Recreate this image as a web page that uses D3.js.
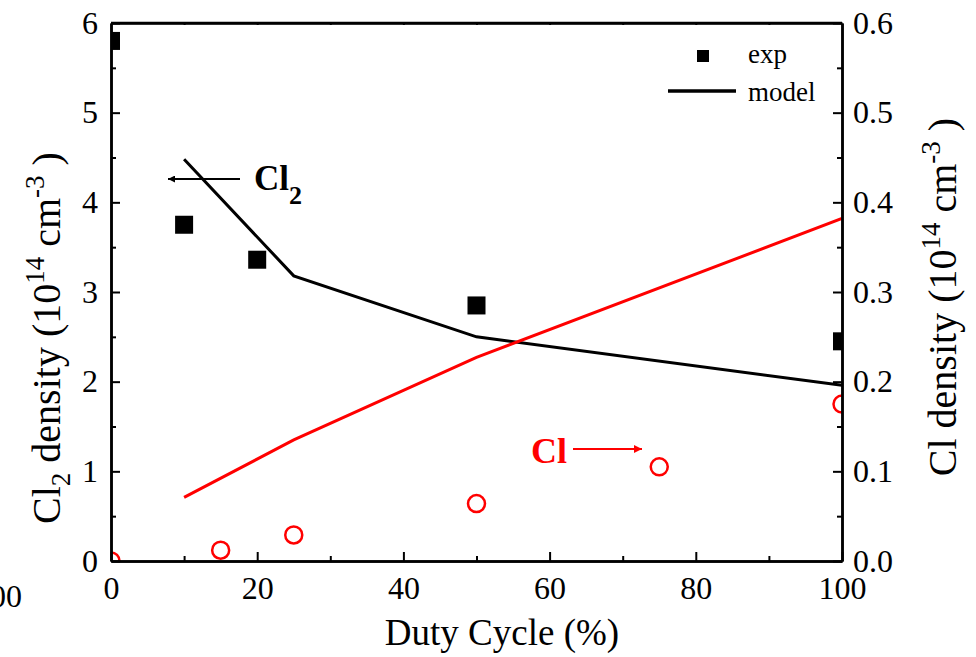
<!DOCTYPE html>
<html><head><meta charset="utf-8">
<script src="https://cdn.jsdelivr.net/npm/d3@7"></script>
<style>body{margin:0;background:#fff;} svg{display:block;} svg text{font-family:"Liberation Serif","Times New Roman",serif !important;}</style>
</head><body>
<script>
// Data
const expX = [0, 10, 20, 50, 100];
const expCl2 = [5.8, 3.75, 3.36, 2.85, 2.45];
const modelX = [10, 25, 50, 100];
const modelCl2 = [4.48, 3.18, 2.5, 1.96];
const clExpX = [0, 15, 25, 50, 75, 100];
const clExp = [0.0, 0.012, 0.029, 0.064, 0.105, 0.175];
const clModelX = [10, 25, 50, 100];
const clModel = [0.071, 0.135, 0.227, 0.382];
const xTicks = [0, 20, 40, 60, 80, 100];
const yLeftTicks = [0, 1, 2, 3, 4, 5, 6];
const yRightTicks = [0, 0.1, 0.2, 0.3, 0.4, 0.5, 0.6];

const W = 976, H = 657;
const L = 111, R = 842, T = 23, B = 561;
const svg = d3.select("body").append("svg").attr("width", W).attr("height", H);

const x = d3.scaleLinear().domain([0, 100]).range([L, R]);
const yL = d3.scaleLinear().domain([0, 6]).range([B, T]);
const yR = d3.scaleLinear().domain([0, 0.6]).range([B, T]);

svg.append("clipPath").attr("id", "clip").append("rect")
  .attr("x", L).attr("y", T).attr("width", R - L).attr("height", B - T);

const g = svg.append("g").attr("clip-path", "url(#clip)");

// model lines
const lineL = d3.line().x((d, i) => x(modelX[i])).y(d => yL(d));
g.append("path").datum(modelCl2).attr("d", lineL).attr("fill", "none").attr("stroke", "#000").attr("stroke-width", 3);
const lineR = d3.line().x((d, i) => x(clModelX[i])).y(d => yR(d));
g.append("path").datum(clModel).attr("d", lineR).attr("fill", "none").attr("stroke", "#ff0000").attr("stroke-width", 3);

// exp squares
const s = 18;
g.selectAll("rect.sq").data(expCl2).enter().append("rect")
  .attr("x", (d, i) => x(expX[i]) - s / 2).attr("y", d => yL(d) - s / 2)
  .attr("width", s).attr("height", s).attr("fill", "#000");
// exp circles
g.selectAll("circle.c").data(clExp).enter().append("circle")
  .attr("cx", (d, i) => x(clExpX[i])).attr("cy", d => yR(d)).attr("r", 8.5)
  .attr("fill", "none").attr("stroke", "#ff0000").attr("stroke-width", 2.5);

// axes
const fs = 32;
function styleAxis(sel) {
  sel.attr("font-family", null);
  sel.selectAll("path.domain").attr("stroke", "#000").attr("stroke-width", 2.5);
  sel.selectAll(".tick line").attr("stroke", "#000").attr("stroke-width", 2);
  sel.selectAll(".tick text").attr("font-size", fs).style("font-family", "'Liberation Serif', serif").attr("fill", "#000");
}
// minor ticks
const minor = (axis) => axis.tickFormat("").tickSizeOuter(0);
svg.append("g").attr("transform", `translate(0,${B})`)
  .call(minor(d3.axisBottom(x).tickValues([10, 30, 50, 70, 90]).tickSizeInner(-5))).call(styleAxis);
svg.append("g").attr("transform", `translate(${L},0)`)
  .call(minor(d3.axisLeft(yL).tickValues([0.5, 1.5, 2.5, 3.5, 4.5, 5.5]).tickSizeInner(-5))).call(styleAxis);
svg.append("g").attr("transform", `translate(${R},0)`)
  .call(minor(d3.axisRight(yR).tickValues([0.05, 0.15, 0.25, 0.35, 0.45, 0.55]).tickSizeInner(-5))).call(styleAxis);
svg.append("g").attr("transform", `translate(0,${T})`)
  .call(minor(d3.axisTop(x).tickValues(d3.range(10, 100, 10)).tickSizeInner(-2))).call(styleAxis);

const xa = svg.append("g").attr("transform", `translate(0,${B})`)
  .call(d3.axisBottom(x).tickValues(xTicks).tickFormat(d3.format("d")).tickSizeInner(-9).tickSizeOuter(0).tickPadding(15));
styleAxis(xa);
xa.selectAll(".tick text").attr("dy", "0.71em");
const yla = svg.append("g").attr("transform", `translate(${L},0)`)
  .call(d3.axisLeft(yL).tickValues(yLeftTicks).tickFormat(d3.format("d")).tickSizeInner(-9).tickSizeOuter(0).tickPadding(13));
styleAxis(yla);
const yra = svg.append("g").attr("transform", `translate(${R},0)`)
  .call(d3.axisRight(yR).tickValues(yRightTicks).tickFormat(d3.format(".1f")).tickSizeInner(-9).tickSizeOuter(0).tickPadding(11));
styleAxis(yra);

// frame top
svg.append("line").attr("x1", L).attr("x2", R).attr("y1", T).attr("y2", T).attr("stroke", "#000").attr("stroke-width", 2.5);

// stray clipped label at bottom-left
svg.append("text").attr("x", 22).attr("y", 607).attr("text-anchor", "end").attr("font-size", fs).text("100");

// axis titles
svg.append("text").attr("x", 502).attr("y", 645).attr("text-anchor", "middle").attr("font-size", 37).text("Duty Cycle (%)");

const tfs = 40, sfs = 27;
const lt = svg.append("text").attr("transform", `translate(60,338) rotate(-90)`).attr("text-anchor", "middle").attr("font-size", tfs);
lt.append("tspan").text("Cl");
lt.append("tspan").attr("font-size", sfs).attr("dy", 10).text("2");
lt.append("tspan").attr("dy", -10).text(" density (10");
lt.append("tspan").attr("font-size", sfs).attr("dy", -16).text("14");
lt.append("tspan").attr("dy", 16).text(" cm");
lt.append("tspan").attr("font-size", sfs).attr("dy", -16).text("-3");
lt.append("tspan").attr("dy", 16).text(" )");

const rt = svg.append("text").attr("transform", `translate(956,297) rotate(-90)`).attr("text-anchor", "middle").attr("font-size", tfs);
rt.append("tspan").text("Cl density (10");
rt.append("tspan").attr("font-size", sfs).attr("dy", -16).text("14");
rt.append("tspan").attr("dy", 16).text(" cm");
rt.append("tspan").attr("font-size", sfs).attr("dy", -16).text("-3");
rt.append("tspan").attr("dy", 16).text(" )");

// legend
svg.append("rect").attr("x", 697).attr("y", 50).attr("width", 12).attr("height", 12).attr("fill", "#000");
svg.append("text").attr("x", 748).attr("y", 63).attr("font-size", 27).text("exp");
svg.append("line").attr("x1", 668).attr("x2", 736).attr("y1", 91).attr("y2", 91).attr("stroke", "#000").attr("stroke-width", 3.5);
svg.append("text").attr("x", 748).attr("y", 101).attr("font-size", 27).text("model");

// annotations
const defs = svg.append("defs");
defs.append("marker").attr("id", "ab").attr("viewBox", "0 0 10 10").attr("refX", 10).attr("refY", 5)
  .attr("markerWidth", 11).attr("markerHeight", 7).attr("markerUnits", "userSpaceOnUse").attr("orient", "auto")
  .append("path").attr("d", "M0,0L10,5L0,10z").attr("fill", "#000");
defs.append("marker").attr("id", "ar").attr("viewBox", "0 0 10 10").attr("refX", 10).attr("refY", 5)
  .attr("markerWidth", 15).attr("markerHeight", 8).attr("markerUnits", "userSpaceOnUse").attr("orient", "auto")
  .append("path").attr("d", "M0,0L10,5L0,10z").attr("fill", "#ff0000");
svg.append("line").attr("x1", 240).attr("x2", 168).attr("y1", 179).attr("y2", 179).attr("stroke", "#000").attr("stroke-width", 2).attr("marker-end", "url(#ab)");
const c2 = svg.append("text").attr("x", 254).attr("y", 190).attr("font-size", 35).attr("font-weight", "bold");
c2.append("tspan").text("Cl");
c2.append("tspan").attr("font-size", 26).attr("dy", 14).text("2");

svg.append("text").attr("x", 531).attr("y", 463).attr("font-size", 36).attr("font-weight", "bold").attr("fill", "#ff0000").text("Cl");
svg.append("line").attr("x1", 573).attr("x2", 642).attr("y1", 449).attr("y2", 449).attr("stroke", "#ff0000").attr("stroke-width", 2).attr("marker-end", "url(#ar)");
</script>
</body></html>
